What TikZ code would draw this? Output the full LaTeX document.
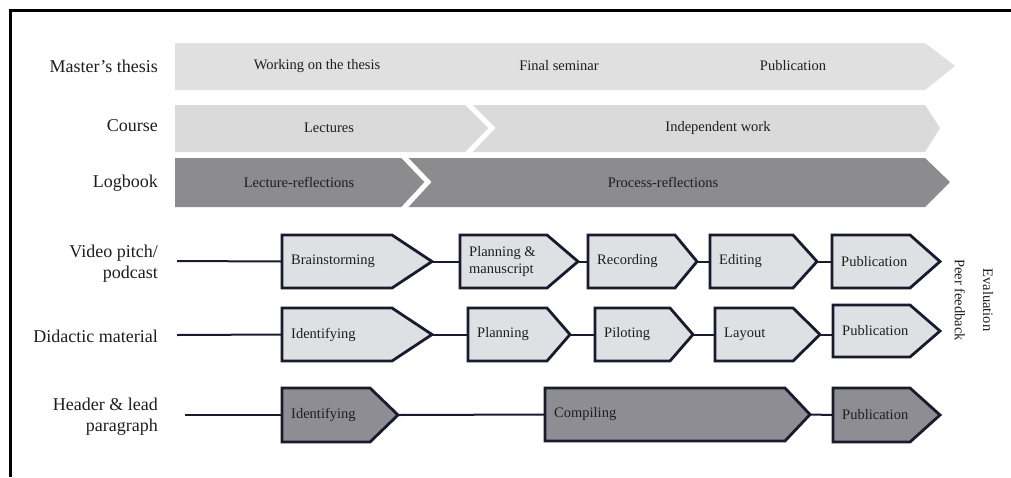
\documentclass[tikz,border=0pt]{standalone}
\usepackage{fontspec}
\setmainfont{Liberation Serif}
\definecolor{inkc}{HTML}{1E1E1E}
\definecolor{linec}{HTML}{171B2C}
\definecolor{bandlightA}{HTML}{E0E0E0}
\definecolor{bandlightB}{HTML}{DADADA}
\definecolor{banddark}{HTML}{8C8B8E}
\definecolor{boxlight}{HTML}{DFE0E4}
\definecolor{boxdark}{HTML}{8F8D94}

% step box: name, left x, end of body x, tip x, top y, bottom y, fill, text
\newcommand\stepbox[8]{%
  \node[inner sep=0pt, outer sep=0pt,
        minimum width={(#4-#2)*1pt}, minimum height={(#6-#5)*1pt}]
        (#1) at ({(#2+#4)/2},{(#5+#6)/2}) {};
  \draw[boxline, fill=#7] (#1.north west) -- (#3,#5) -- (#1.east)
        -- (#3,#6) -- (#1.south west) -- cycle;
  \node[boxtext] (#1-txt) at ([xshift=9pt]#1.west) {#8};
}

\begin{document}
\begin{tikzpicture}[x=1pt,y=-1pt,
  rowlabel/.style={anchor=east, align=right, inner sep=0pt,
                   font=\fontsize{18}{21}\selectfont, text=inkc},
  bandtext/.style={inner sep=0pt, font=\fontsize{14.5}{17}\selectfont, text=inkc},
  boxtext/.style={anchor=west, align=left, inner sep=0pt,
                  font=\fontsize{14.5}{16.5}\selectfont, text=inkc},
  boxline/.style={draw=linec, line width=2.8pt, line join=miter},
  link/.style={draw=linec, line width=2pt},
  notch/.style={draw=white, line width=5pt, line join=miter}]

\useasboundingbox (0,0) rectangle (1011,477);
\fill[white] (0,0) rectangle (1011,477);

% frame
\draw[line width=3pt, black] (10.5,477) -- (10.5,10.5) -- (1011,10.5);

% ---- phase bands ----
\fill[bandlightA] (175,43) -- (925,43) -- (955,66) -- (925,90) -- (175,90) -- cycle;
\fill[bandlightB] (175,105) -- (925,105) -- (940,128) -- (925,152) -- (175,152) -- cycle;
\draw[notch] (467,103) -- (492,128) -- (467,154);
\fill[banddark] (175,158) -- (925,158) -- (950,182) -- (925,207) -- (175,207) -- cycle;
\draw[notch] (403,156) -- (428,182) -- (403,209);

\node[rowlabel] (lthesis) at (158,66) {Master’s thesis};
\node[rowlabel] (lcourse) at (158,126) {Course};
\node[rowlabel] (llog) at (158,183) {Logbook};

\node[bandtext] (working) at (317,66) {Working on the thesis};
\node[bandtext] (seminar) at (559,66) {Final seminar};
\node[bandtext] (pubthesis) at (793,66) {Publication};
\node[bandtext] (lectures) at (329,128) {Lectures};
\node[bandtext] (indep) at (718,128) {Independent work};
\node[bandtext] (lectrefl) at (299,182) {Lecture-reflections};
\node[bandtext] (procrefl) at (663,182) {Process-reflections};

% ---- video pitch / podcast ----
\node[rowlabel] (lvideo) at (158,264) {Video pitch/\\podcast};
\coordinate (v0) at (177,261);
\stepbox{brain}{282}{392}{432}{235}{288}{boxlight}{Brainstorming}
\stepbox{plan}{460}{547}{578}{235}{288}{boxlight}{Planning \&\\manuscript}
\stepbox{rec}{588}{675}{697}{235}{288}{boxlight}{Recording}
\stepbox{edit}{710}{793}{817}{235}{288}{boxlight}{Editing}
\stepbox{pubv}{832}{910}{940}{235}{288}{boxlight}{Publication}
\draw[link] (v0) -- (brain.west);
\draw[link] (brain.east) -- (plan.west);
\draw[link] (plan.east) -- (rec.west);
\draw[link] (rec.east) -- (edit.west);
\draw[link] (edit.east) -- (pubv.west);

% ---- didactic material ----
\node[rowlabel] (ldid) at (158,336) {Didactic material};
\coordinate (d0) at (177,335);
\stepbox{ident}{282}{392}{432}{308}{361}{boxlight}{Identifying}
\stepbox{planb}{468}{547}{570}{308}{361}{boxlight}{Planning}
\stepbox{pilot}{595}{670}{693}{308}{361}{boxlight}{Piloting}
\stepbox{layout}{715}{793}{820}{308}{361}{boxlight}{Layout}
\stepbox{pubd}{833}{910}{940}{305}{357}{boxlight}{Publication}
\draw[link] (d0) -- (ident.west);
\draw[link] (ident.east) -- (planb.west);
\draw[link] (planb.east) -- (pilot.west);
\draw[link] (pilot.east) -- (layout.west);
\draw[link] (layout.east) -- (layout.east -| pubd.west);

% ---- header & lead paragraph ----
\node[rowlabel] (lhead) at (158,417) {Header \& lead\\paragraph};
\coordinate (h0) at (185,415);
\stepbox{identh}{282}{370}{398}{388}{442}{boxdark}{Identifying}
\stepbox{comp}{545}{785}{810}{388}{441}{boxdark}{Compiling}
\stepbox{pubh}{833}{910}{940}{388}{442}{boxdark}{Publication}
\draw[link] (h0) -- (identh.west);
\draw[link] (identh.east) -- (comp.west);
\draw[link] (comp.east) -- (pubh.west);

% ---- side notes ----
\node[bandtext, rotate=-90] (peer) at (960,300) {Peer feedback};
\node[bandtext, rotate=-90] (evaluation) at (988,300) {Evaluation};

\end{tikzpicture}
\end{document}
